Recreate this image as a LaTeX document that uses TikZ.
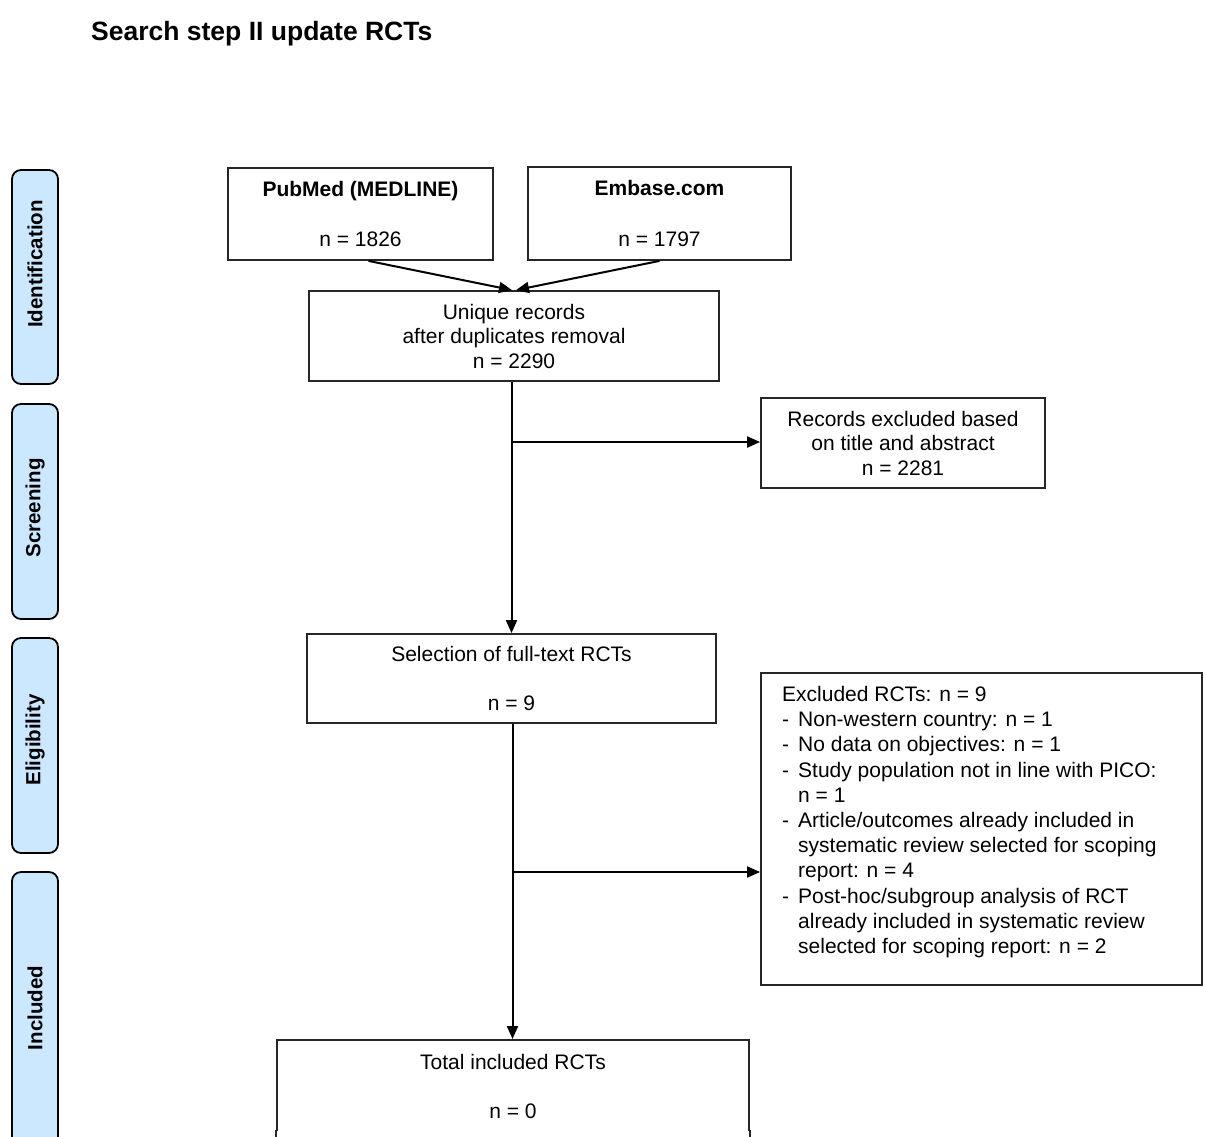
\documentclass[tikz,border=0pt]{standalone}
\usepackage{fontspec}
\setmainfont{Liberation Sans}
\usetikzlibrary{arrows.meta}
\definecolor{sidefill}{HTML}{CCE8FF}
\begin{document}
\begin{tikzpicture}[x=1pt,y=-1pt,
  box/.style={draw=black!85, line width=1.8pt, align=center, inner sep=0pt,
    font=\fontsize{21}{24.5}\selectfont},
  side/.style={draw=black, line width=1.8pt, fill=sidefill, rounded corners=9pt,
    rotate=90, minimum height=46pt, inner sep=0pt,
    font=\fontsize{20.5}{24}\selectfont\bfseries},
  arr/.style={line width=2pt, -{Triangle[length=13pt,width=11pt]}},
  listtext/.style={align=left, inner sep=0pt, font=\fontsize{21}{25.2}\selectfont}
]
\useasboundingbox (0,0) rectangle (1206,1136);
\fill[white] (0,0) rectangle (1206,1136);

% title
\node[anchor=base west, inner sep=0pt, font=\fontsize{26.5}{30}\selectfont\bfseries] (title) at (91,40) {Search step II update RCTs};

% side labels
\node[side, minimum width=214pt] (sid) at (35,277) {\raisebox{0pt}{\hspace*{26pt}Identification}};
\node[side, minimum width=215pt] (sscr) at (35,511.5) {\hspace*{7pt}Screening};
\node[side, minimum width=215pt] (selig) at (35,745.5) {\hspace*{11pt}Eligibility};
\node[side, minimum width=280pt] (sinc) at (35,1012) {\hspace*{8pt}Included};

% boxes
\node[box, minimum width=265pt, minimum height=92pt] (pubmed) at (360.5,214)
  {\textbf{PubMed (MEDLINE)}\\[26pt]n = 1826};
\node[box, minimum width=263pt, minimum height=93pt] (embase) at (659.5,213.5)
  {\textbf{Embase.com}\\[26pt]n = 1797};
\node[box, minimum width=410pt, minimum height=90pt] (unique) at (514,336)
  {Unique records\\after duplicates removal\\n = 2290};
\node[box, minimum width=284pt, minimum height=90pt] (recexcl) at (903,443)
  {Records excluded based\\on title and abstract\\n = 2281};
\node[box, minimum width=409pt, minimum height=89pt] (selection) at (511.5,678.5)
  {Selection of full-text RCTs\\[24.5pt]n = 9};
\node[box, minimum width=441pt, minimum height=312pt] (excluded) at (981.5,829) {};
\node[listtext, anchor=north west] (exctext) at (782,686)
  {Excluded RCTs: n = 9\\
   \makebox[16pt][l]{-}Non-western country: n = 1\\
   \makebox[16pt][l]{-}No data on objectives: n = 1\\
   \makebox[16pt][l]{-}Study population not in line with PICO:\\
   \hspace*{16pt}n = 1\\
   \makebox[16pt][l]{-}Article/outcomes already included in\\
   \hspace*{16pt}systematic review selected for scoping\\
   \hspace*{16pt}report: n = 4\\
   \makebox[16pt][l]{-}Post-hoc/subgroup analysis of RCT\\
   \hspace*{16pt}already included in systematic review\\
   \hspace*{16pt}selected for scoping report: n = 2};
\node[box, minimum width=472pt, minimum height=94pt, anchor=north] (total) at (513,1039)
  {Total included RCTs\\[24.5pt]n = 0};
% hide the bottom edge of the total box (cut by the page edge in the original)
\fill[white] (270,1131) rectangle (760,1140);
\draw[black!85, line width=1.8pt] (total.south west) ++(0,-5) -- ++(0,10);
\draw[black!85, line width=1.8pt] (total.south east) ++(0,-5) -- ++(0,10);

% connectors
\draw[arr] ([xshift=8pt]pubmed.south) -- ([xshift=-2pt]unique.north);
\draw[arr] (embase.south) -- ([xshift=2pt]unique.north);
\draw[arr] (unique.south -| selection.north) -- (selection.north);
\coordinate (b1) at (511.5,442);
\draw[arr] (b1) -- (b1 -| recexcl.west);
\draw[arr] ([xshift=1pt]selection.south) -- ([xshift=1pt]selection.south |- total.north);
\coordinate (b2) at (512.5,872);
\draw[arr] (b2) -- (b2 -| excluded.west);
\end{tikzpicture}
\end{document}
